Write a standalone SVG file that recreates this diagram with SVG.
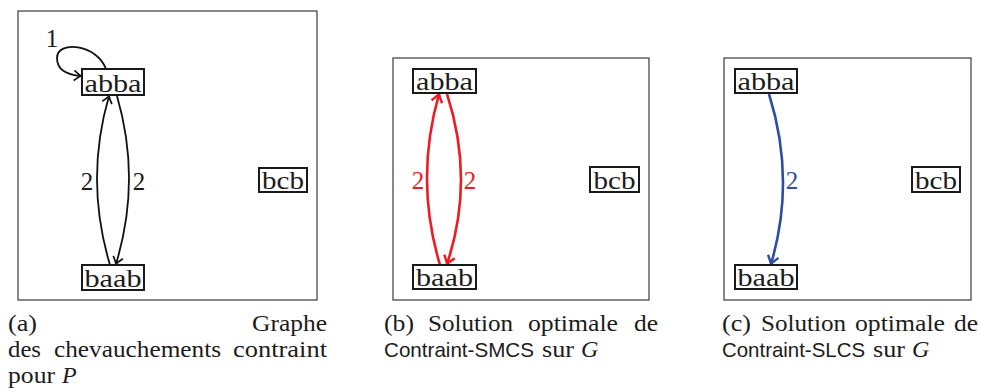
<svg xmlns="http://www.w3.org/2000/svg" width="981" height="392" viewBox="0 0 981 392">
<style>
.frame{fill:none;stroke:#3a3a3a;stroke-width:1.2}
.box{fill:#fff;stroke:#1a1a1a;stroke-width:2}
.nt{font-family:"Liberation Serif",serif;font-size:26px;fill:#1c1c1c;text-anchor:middle}
.lbl{font-family:"Liberation Serif",serif;font-size:25px;text-anchor:middle}
.cap{font-family:"Liberation Serif",serif;font-size:24px;fill:#1c1c1c}
.sans{font-family:"Liberation Sans",sans-serif;font-size:21px;fill:#1c1c1c}
.it{font-style:italic}
.e{fill:none;stroke-width:1.8}
.k{stroke:#111}
.r{stroke:#ec1c24;stroke-width:2.6}
.b{stroke:#2d4ea3;stroke-width:2.6}
</style>
<defs>
<marker id="ak" viewBox="-9 -7 11 14" markerWidth="11" markerHeight="14" refX="0" refY="0" orient="auto" markerUnits="userSpaceOnUse">
<path d="M-7,-5 Q-2,-1 0,0 Q-2,1 -7,5" fill="none" stroke="#111" stroke-width="1.7"/>
</marker>
<marker id="ar" viewBox="-10 -8 12 16" markerWidth="12" markerHeight="16" refX="0" refY="0" orient="auto" markerUnits="userSpaceOnUse">
<path d="M-8,-5.5 Q-2,-1 0,0 Q-2,1 -8,5.5" fill="none" stroke="#ec1c24" stroke-width="2.4"/>
</marker>
<marker id="ab" viewBox="-10 -8 12 16" markerWidth="12" markerHeight="16" refX="0" refY="0" orient="auto" markerUnits="userSpaceOnUse">
<path d="M-8,-5.5 Q-2,-1 0,0 Q-2,1 -8,5.5" fill="none" stroke="#2d4ea3" stroke-width="2.4"/>
</marker>
</defs>
<rect id="frameA" class="frame" x="18" y="11" width="299" height="289"/>
<rect id="frameB" class="frame" x="393" y="58" width="256" height="242"/>
<rect id="frameC" class="frame" x="724" y="58" width="247" height="242"/>
<g id="connectors">
<path class="e k" d="M106,69 C97,44 57,40 57,58 C57,70 68,75 81,76" marker-end="url(#ak)"/>
<path class="e k" d="M117,96 Q141.5,180 116,264" marker-end="url(#ak)"/>
<path class="e k" d="M110,265 Q84.5,180 109,96" marker-end="url(#ak)"/>
<path class="e r" d="M440,265 Q414.5,180 439,94" marker-end="url(#ar)"/>
<path class="e r" d="M447,94 Q475,180 447,264" marker-end="url(#ar)"/>
<path class="e b" d="M769,94 Q796,180 771,264" marker-end="url(#ab)"/>
<text class="lbl" x="52" y="47" fill="#1c1c1c">1</text>
<text class="lbl" x="87" y="190" fill="#1c1c1c">2</text>
<text class="lbl" x="139" y="190" fill="#1c1c1c">2</text>
<text class="lbl" x="418" y="189" fill="#ec1c24">2</text>
<text class="lbl" x="470" y="189" fill="#ec1c24">2</text>
<text class="lbl" x="792" y="189" fill="#2d4ea3">2</text>
</g>
<g id="a-abba"><rect class="box" x="82" y="69" width="62" height="26"/><text class="nt" x="113" y="91.5" textLength="57" lengthAdjust="spacingAndGlyphs">abba</text></g>
<g id="a-baab"><rect class="box" x="82" y="265" width="62" height="25"/><text class="nt" x="113" y="287" textLength="57" lengthAdjust="spacingAndGlyphs">baab</text></g>
<g id="a-bcb"><rect class="box" x="259" y="168" width="48" height="24"/><text class="nt" x="283" y="189" textLength="42" lengthAdjust="spacingAndGlyphs">bcb</text></g>
<g id="b-abba"><rect class="box" x="413" y="69" width="63" height="24"/><text class="nt" x="444.5" y="90" textLength="57" lengthAdjust="spacingAndGlyphs">abba</text></g>
<g id="b-baab"><rect class="box" x="413" y="265" width="63" height="24"/><text class="nt" x="444.5" y="286" textLength="57" lengthAdjust="spacingAndGlyphs">baab</text></g>
<g id="b-bcb"><rect class="box" x="590" y="167" width="49" height="25"/><text class="nt" x="614.5" y="188.5" textLength="42" lengthAdjust="spacingAndGlyphs">bcb</text></g>
<g id="c-abba"><rect class="box" x="735" y="69" width="62" height="24"/><text class="nt" x="766" y="90" textLength="57" lengthAdjust="spacingAndGlyphs">abba</text></g>
<g id="c-baab"><rect class="box" x="735" y="265" width="62" height="24"/><text class="nt" x="766" y="286" textLength="57" lengthAdjust="spacingAndGlyphs">baab</text></g>
<g id="c-bcb"><rect class="box" x="912" y="167" width="48" height="25"/><text class="nt" x="936" y="188.5" textLength="42" lengthAdjust="spacingAndGlyphs">bcb</text></g>
<g id="captions">
<text class="cap" x="8" y="331" textLength="29" lengthAdjust="spacingAndGlyphs">(a)</text>
<text class="cap" x="252" y="331" textLength="75" lengthAdjust="spacingAndGlyphs">Graphe</text>
<text class="cap" x="8" y="357" textLength="33" lengthAdjust="spacingAndGlyphs">des</text>
<text class="cap" x="54" y="357" textLength="167" lengthAdjust="spacingAndGlyphs">chevauchements</text>
<text class="cap" x="233" y="357" textLength="94" lengthAdjust="spacingAndGlyphs">contraint</text>
<text class="cap" x="8" y="383" textLength="47" lengthAdjust="spacingAndGlyphs">pour</text>
<text class="cap it" x="62" y="383">P</text>
<text class="cap" x="384" y="331" textLength="30" lengthAdjust="spacingAndGlyphs">(b)</text>
<text class="cap" x="428" y="331" textLength="85" lengthAdjust="spacingAndGlyphs">Solution</text>
<text class="cap" x="528" y="331" textLength="90" lengthAdjust="spacingAndGlyphs">optimale</text>
<text class="cap" x="634" y="331" textLength="24" lengthAdjust="spacingAndGlyphs">de</text>
<text class="sans" x="384" y="357" textLength="150" lengthAdjust="spacingAndGlyphs">Contraint-SMCS</text>
<text class="cap" x="542" y="357" textLength="32" lengthAdjust="spacingAndGlyphs">sur</text>
<text class="cap it" x="581" y="357">G</text>
<text class="cap" x="722" y="331" textLength="29" lengthAdjust="spacingAndGlyphs">(c)</text>
<text class="cap" x="761" y="331" textLength="85" lengthAdjust="spacingAndGlyphs">Solution</text>
<text class="cap" x="855" y="331" textLength="90" lengthAdjust="spacingAndGlyphs">optimale</text>
<text class="cap" x="954" y="331" textLength="24" lengthAdjust="spacingAndGlyphs">de</text>
<text class="sans" x="722" y="357" textLength="143" lengthAdjust="spacingAndGlyphs">Contraint-SLCS</text>
<text class="cap" x="873" y="357" textLength="32" lengthAdjust="spacingAndGlyphs">sur</text>
<text class="cap it" x="912" y="357">G</text>
</g>
</svg>
